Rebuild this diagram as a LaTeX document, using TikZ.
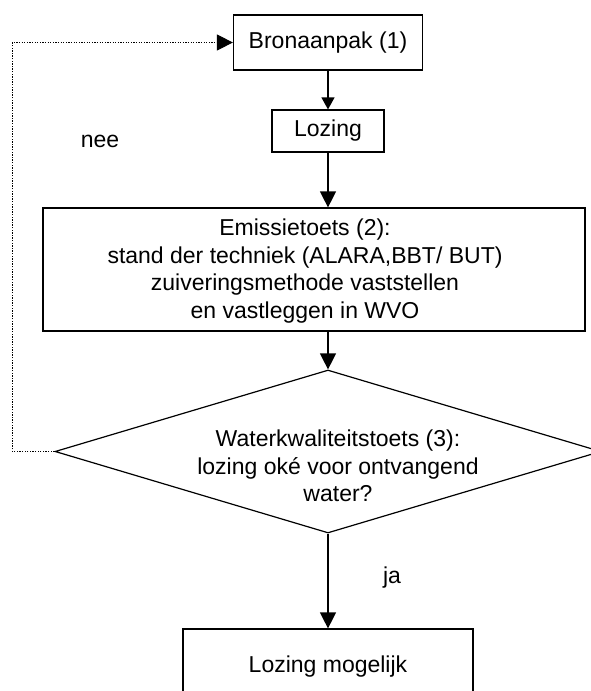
\documentclass[tikz,border=0pt]{standalone}
\usepackage{fontspec}
\setmainfont{Liberation Sans}
\usetikzlibrary{arrows.meta,shapes.geometric}

\begin{document}
\begin{tikzpicture}[x=1pt,y=-1pt,
  box/.style={draw,line width=1.2pt,inner sep=0pt,font=\fontsize{23}{27.5}\selectfont},
  flow/.style={line width=1.2pt,-{Triangle[length=16pt,width=16pt]}},
  back/.style={line width=1pt,dash pattern=on 1.3pt off 1.3pt,-{Triangle[length=16pt,width=16pt]}},
  txt/.style={inner sep=0pt,align=center,font=\fontsize{23}{27.5}\selectfont}]
\useasboundingbox (0,0) rectangle (591,691);

%Shape: Rectangle [Bronaanpak]
\node[box,minimum width=189,minimum height=55] (bron) at (328,42.5) {Bronaanpak (1)};
%Shape: Rectangle [Lozing]
\node[box,minimum width=112,minimum height=42] (lozing) at (328,131) {Lozing};
%Shape: Rectangle [Emissietoets]
\node[box,minimum width=542,minimum height=123] (emis) at (314,269.5) {};
%Shape: Diamond [Waterkwaliteitstoets]
\node[draw,line width=1.2pt,diamond,inner sep=0pt,minimum width=546,minimum height=163] (dia) at (328,451.5) {};
%Shape: Rectangle [Lozing mogelijk]
\node[box,minimum width=290,minimum height=76] (eind) at (328,667) {Lozing mogelijk};

% Text Node
\node[txt] (emistext) at (305,271) {Emissietoets (2):\\stand der techniek (ALARA,BBT/ BUT)\\zuiveringsmethode vaststellen\\en vastleggen in WVO};
% Text Node
\node[txt] (diatext) at (338,466) {Waterkwaliteitstoets (3):\\lozing oké voor ontvangend\\water?};
% Text Node
\node[txt] (nee) at (100,141) {nee};
% Text Node
\node[txt] (ja) at (392,578) {ja};

%Straight Lines
\draw[flow,-{Triangle[length=12pt,width=13pt]}] (bron.south) -- (lozing.north);
\draw[flow] (lozing.south) -- (lozing.south |- emis.north);
\draw[flow] (lozing.south |- emis.south) -- (dia.north);
\draw[flow] (dia.south) -- (dia.south |- eind.north);
%Dotted Lines
\draw[back] (dia.west) -- ++(-42,0) |- (bron.west);

\end{tikzpicture}
\end{document}
